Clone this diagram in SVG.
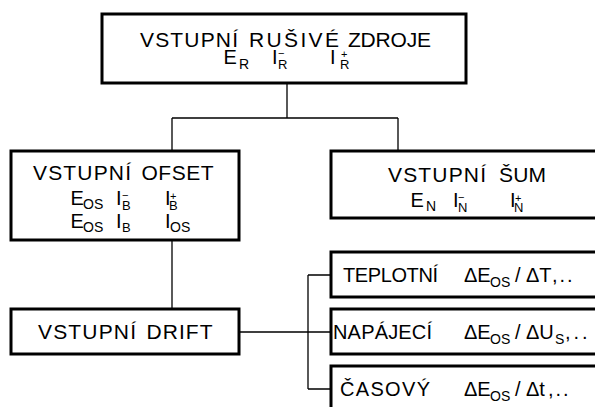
<svg xmlns="http://www.w3.org/2000/svg" width="595" height="407" viewBox="0 0 595 407">
<style>
.box{fill:#fff;stroke:#000;stroke-width:3}
.con{fill:none;stroke:#000;stroke-width:1.3}
text{font-family:"Liberation Sans",Arial,sans-serif;fill:#000}
.t{font-size:21px}
.r{font-size:20px}
.m{font-size:20px}
.q{font-size:14px}
.s{font-size:13px}
.p{font-size:11px}
</style>
<rect width="595" height="407" fill="#fff"/>
<g id="connectors">
<path class="con" d="M287 83V118M172 118H398M172 118V151M398 118V151"/>
<path class="con" d="M172 240V309"/>
<path class="con" d="M239 332H331M308 275V389M308 275H331M308 389H331"/>
</g>
<g id="rusive">
<rect class="box" x="102" y="14" width="364" height="69"/>
<text class="t" x="140" y="47" textLength="98" lengthAdjust="spacing">VSTUPNÍ</text>
<text class="t" x="249" y="47" textLength="90" lengthAdjust="spacing">RUŠIVÉ</text>
<text class="t" x="348" y="47" textLength="83" lengthAdjust="spacing">ZDROJE</text>
<text class="m" x="223.5" y="63.5">E</text><text class="q" x="239" y="68.5">R</text>
<text class="m" x="272" y="63.5">I</text><text class="p" x="278" y="57">−</text><text class="s" x="278" y="69">R</text>
<text class="m" x="330" y="63.5">I</text><text class="p" x="341" y="58">+</text><text class="s" x="340" y="69">R</text>
</g>
<g id="ofset">
<rect class="box" x="11" y="151" width="228" height="89"/>
<text class="t" x="33" y="180" textLength="98" lengthAdjust="spacing">VSTUPNÍ</text>
<text class="t" x="141.5" y="180" textLength="72" lengthAdjust="spacing">OFSET</text>
<text class="m" x="70.5" y="205">E</text><text class="q" x="83" y="209">OS</text>
<text class="m" x="116" y="205">I</text><text class="p" x="122" y="199">−</text><text class="s" x="122" y="210">B</text>
<text class="m" x="165" y="205">I</text><text class="p" x="170" y="200">+</text><text class="s" x="169" y="210">B</text>
<text class="m" x="70.5" y="228">E</text><text class="q" x="83" y="232">OS</text>
<text class="m" x="116" y="228">I</text><text class="s" x="122" y="232">B</text>
<text class="m" x="165" y="228">I</text><text class="q" x="170" y="232">OS</text>
</g>
<g id="sum">
<rect class="box" x="331" y="151" width="290" height="67"/>
<text class="t" x="388" y="182" textLength="98" lengthAdjust="spacing">VSTUPNÍ</text>
<text class="t" x="499" y="182" textLength="47" lengthAdjust="spacing">ŠUM</text>
<text class="m" x="410.5" y="207">E</text><text class="q" x="426" y="211">N</text>
<text class="m" x="453" y="207">I</text><text class="p" x="458" y="201">−</text><text class="s" x="458" y="212">N</text>
<text class="m" x="510" y="207">I</text><text class="p" x="515" y="202">+</text><text class="s" x="514" y="212">N</text>
</g>
<g id="drift">
<rect class="box" x="11" y="309" width="228" height="45"/>
<text class="t" x="38" y="339" textLength="98" lengthAdjust="spacing">VSTUPNÍ</text>
<text class="t" x="146.5" y="339" textLength="66" lengthAdjust="spacing">DRIFT</text>
</g>
<g id="teplotni">
<rect class="box" x="331" y="252" width="290" height="45"/>
<text class="r" x="343" y="281.5" textLength="95" lengthAdjust="spacing">TEPLOTNÍ</text>
<text class="r" x="464" y="281.5">ΔE</text><text class="q" x="490" y="287">OS</text>
<text class="r" x="515" y="281.5">/</text><text class="r" x="526" y="281.5">ΔT</text><text class="r" x="552" y="281.5" letter-spacing="2">,..</text>
</g>
<g id="napajeci">
<rect class="box" x="331" y="309" width="290" height="45"/>
<text class="r" x="333" y="338.5" textLength="99" lengthAdjust="spacing">NAPÁJECÍ</text>
<text class="r" x="464" y="338.5">ΔE</text><text class="q" x="490" y="344">OS</text>
<text class="r" x="515" y="338.5">/</text><text class="r" x="526" y="338.5">ΔU</text><text class="q" x="555" y="344">S</text><text class="r" x="565" y="338.5" letter-spacing="3">,..</text>
</g>
<g id="casovy">
<rect class="box" x="331" y="366" width="290" height="60"/>
<text class="r" x="340" y="396" textLength="90" lengthAdjust="spacing">ČASOVÝ</text>
<text class="r" x="464" y="396">ΔE</text><text class="q" x="490" y="401">OS</text>
<text class="r" x="515" y="396">/</text><text class="r" x="526" y="396">Δt</text><text class="r" x="548" y="396" letter-spacing="2">,..</text>
</g>
</svg>
